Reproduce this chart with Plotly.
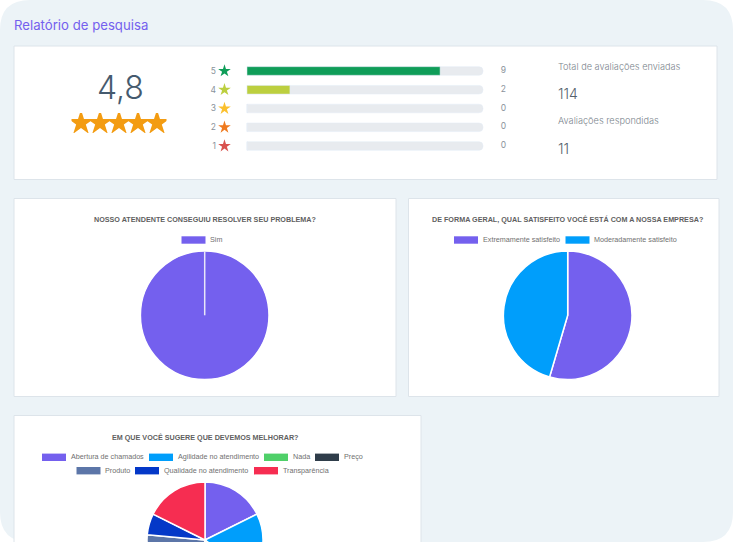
import plotly.graph_objects as go

W, H = 733, 610  # taller than the window, third pie runs off the bottom

# dados
page_title = 'Relatório de pesquisa'
average_score = '4,8'
score_stars = [1, 2, 3, 4, 5]

ratings = [5, 4, 3, 2, 1]
rating_counts = [9, 2, 0, 0, 0]
rating_colors = ['#0f9d58', '#bccf3f', '#fbc02d', '#ef7a1f', '#d9534f']
rating_total = 11

sent_label = 'Total de avaliações enviadas'
sent_value = '114'
answered_label = 'Avaliações respondidas'
answered_value = '11'

title_1 = 'NOSSO ATENDENTE CONSEGUIU RESOLVER SEU PROBLEMA?'
labels_1 = ['Sim']
values_1 = [11]

title_2 = 'DE FORMA GERAL, QUAL SATISFEITO VOCÊ ESTÁ COM A NOSSA EMPRESA?'
labels_2 = ['Extremamente satisfeito', 'Moderadamente satisfeito']
values_2 = [6, 5]

title_3 = 'EM QUE VOCÊ SUGERE QUE DEVEMOS MELHORAR?'
labels_3 = ['Abertura de chamados', 'Agilidade no atendimento', 'Nada', 'Preço',
            'Produto', 'Qualidade no atendimento', 'Transparência']
values_3 = [3, 3, 1, 2, 4, 1, 3]

pie_colors = ['#7460ee', '#009efb', '#4fd069', '#2f3d4a', '#5c76a8', '#0438c8', '#f62d51']

SANS = 'Liberation Sans'
ROUND = 'Inter'


def px(x):
    return x / W


def py(y):
    return 1 - y / H


def card(x0, y0, x1, y1):
    return dict(type='rect', xref='paper', yref='paper', layer='below',
                x0=px(x0), x1=px(x1), y0=py(y0), y1=py(y1),
                fillcolor='white', line=dict(color='#dde4ea', width=1))


def swatch(x0, x1, yc, color):
    return dict(type='rect', xref='paper', yref='paper',
                x0=px(x0), x1=px(x1), y0=py(yc - 3.7), y1=py(yc + 3.7),
                fillcolor=color, line=dict(width=0))


def text(x, y, s, size, color, family=SANS, anchor='left', weight=None):
    return dict(xref='paper', yref='paper', x=px(x), y=py(y), text=s, showarrow=False,
                xanchor=anchor, yanchor='middle', borderpad=0,
                font=dict(family=family, size=size, color=color, weight=weight))


def pie_trace(labels, values, cx, cy, r):
    return go.Pie(labels=labels, values=values, sort=False, direction='clockwise', rotation=0,
                  textinfo='none', showlegend=False,
                  marker=dict(colors=pie_colors[:len(labels)], line=dict(color='white', width=1.5)),
                  domain=dict(x=[px(cx - r), px(cx + r)], y=[py(cy + r), py(cy - r)]))


fig = go.Figure()

# barras de avaliação
fig.add_trace(go.Bar(y=ratings, x=[rating_total] * len(ratings), orientation='h', width=0.46,
                     marker=dict(color='#e8ebef', cornerradius=4), hoverinfo='skip'))
fig.add_trace(go.Bar(y=ratings, x=rating_counts, orientation='h', width=0.46,
                     marker=dict(color=rating_colors, cornerradius=2)))
fig.add_trace(go.Scatter(y=ratings, x=[-1.05] * 5, mode='markers', cliponaxis=False,
                         marker=dict(symbol='star', size=9.5, color=rating_colors, line=dict(width=0))))
fig.add_trace(go.Scatter(y=ratings, x=[11.95] * 5, mode='text', cliponaxis=False,
                         text=rating_counts, textposition='middle center',
                         textfont=dict(family=ROUND, size=8.5, color='#8a939b')))

# estrelas da nota média
fig.add_trace(go.Scatter(x=score_stars, y=[1] * 5, xaxis='x2', yaxis='y2', mode='markers',
                         marker=dict(symbol='star', size=19, color='#f39c12', line=dict(width=0))))

# pizzas
fig.add_trace(pie_trace(labels_1, values_1, 204.7, 315.3, 64.3))
fig.add_trace(pie_trace(labels_2, values_2, 567.7, 315.3, 64.3))
fig.add_trace(pie_trace(labels_3, values_3, 205, 540, 58))

shapes = [
    # fundo com cantos arredondados
    dict(type='path', xref='paper', yref='paper', layer='below', line=dict(width=0), fillcolor='#ecf3f7',
         path=f'M {px(0)} {py(30)} Q {px(0)} {py(0)} {px(30)} {py(0)} L {px(703)} {py(0)} '
              f'Q {px(733)} {py(0)} {px(733)} {py(30)} L {px(733)} {py(512)} '
              f'Q {px(733)} {py(542)} {px(703)} {py(542)} L {px(30)} {py(542)} '
              f'Q {px(0)} {py(542)} {px(0)} {py(512)} Z'),
    card(14, 46, 717, 179.5),
    card(14, 198.5, 396, 396.5),
    card(408.5, 198.5, 719, 396.5),
    card(14, 415.5, 421, 640),
    # fatia única: linha branca do centro até o topo
    dict(type='line', xref='paper', yref='paper', x0=px(204.7), x1=px(204.7), y0=py(315.3), y1=py(251),
         line=dict(color='#e8e6f8', width=1.5)),
]

annotations = [
    text(13, 25, page_title, 13.2, '#7460ee', ROUND),
    text(120.5, 88, average_score, 32, '#455a6e', ROUND, 'center', 300),
    text(557, 66.5, sent_label, 9.2, '#7b858d', ROUND, weight=300),
    text(557, 94, sent_value, 14, '#54616c', ROUND, weight=300),
    text(557, 121, answered_label, 9.2, '#7b858d', ROUND, weight=300),
    text(557, 148, answered_value, 14, '#54616c', ROUND, weight=300),
    text(204.7, 219.5, title_1, 7.2, '#5f5f5f', SANS, 'center', 700),
    text(567.7, 219.5, title_2, 7.2, '#5f5f5f', SANS, 'center', 700),
    text(205, 437, title_3, 7.2, '#5f5f5f', SANS, 'center', 700),
]

# legendas (retângulos largos, como no original)
legend_rows = [
    (labels_1, pie_colors[:1], [181.5], 240),
    (labels_2, pie_colors[:2], [454, 565.5], 240),
    (labels_3[:4], pie_colors[:4], [42, 149, 264, 315], 457.3),
    (labels_3[4:], pie_colors[4:], [76.5, 135, 254], 470.7),
]
for labels, colors, starts, yc in legend_rows:
    for label, color, x0 in zip(labels, colors, starts):
        shapes.append(swatch(x0, x0 + 24, yc, color))
        annotations.append(text(x0 + 27.5, yc - 0.5, label, 7.2, '#707070'))

# eixo das barras: 0 a 11 ocupa x 247-483, com folga p/ estrelas e contagens
unit = (483 - 247) / rating_total
x_min, x_max = -1.4, 12.5

fig.update_layout(
    width=W, height=H, margin=dict(l=0, r=0, t=0, b=0), paper_bgcolor='white', plot_bgcolor='rgba(0,0,0,0)',
    showlegend=False, barmode='overlay', shapes=shapes, annotations=annotations,
    xaxis=dict(domain=[px(247 + x_min * unit), px(247 + x_max * unit)], range=[x_min, x_max], visible=False),
    yaxis=dict(domain=[py(155.4), py(61.6)], range=[0.5, 5.5], tickvals=ratings, ticktext=[str(r) for r in ratings],
               showgrid=False, zeroline=False, showline=False, ticks='',
               tickfont=dict(family=ROUND, size=8.5, color='#8a939b')),
    xaxis2=dict(domain=[px(71.5), px(166.5)], range=[0.5, 5.5], visible=False, anchor='y2'),
    yaxis2=dict(domain=[py(133), py(113)], range=[0, 2], visible=False, anchor='x2'),
)

fig.write_html('out.html', config=dict(displayModeBar=False),
               post_script="document.documentElement.style.overflow='hidden';"
                           "document.body.style.overflow='hidden';document.body.style.margin='0';")
